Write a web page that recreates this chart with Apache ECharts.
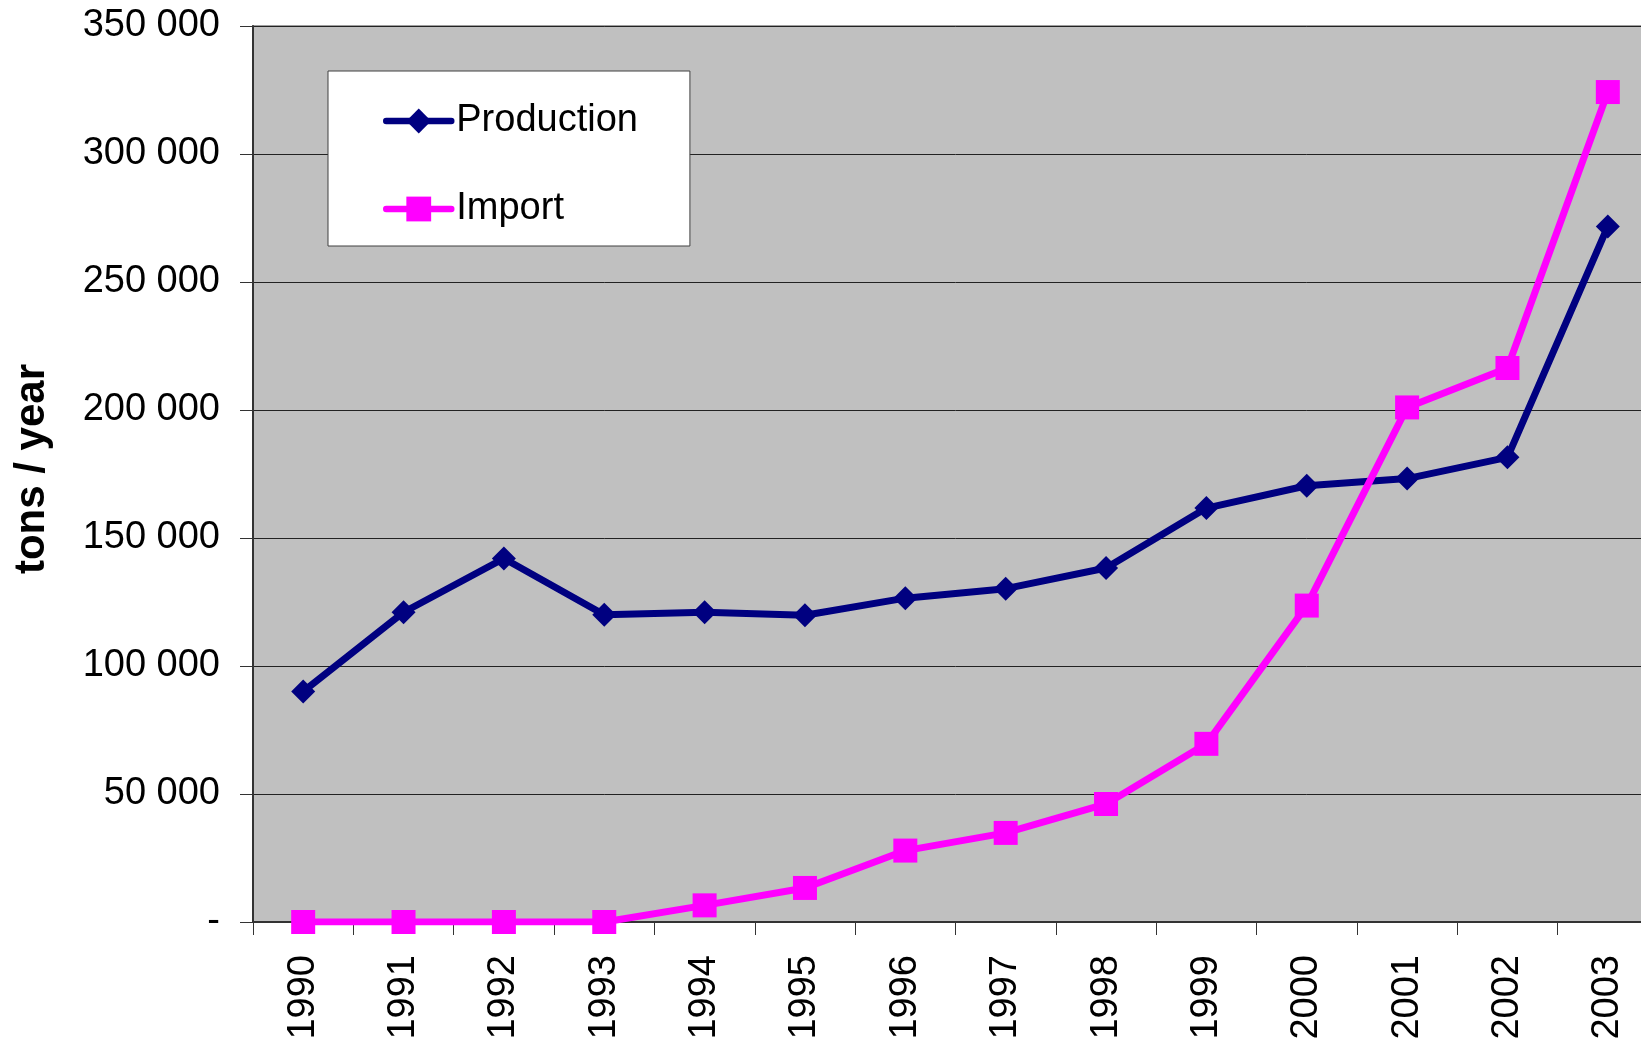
<!DOCTYPE html>
<html>
<head>
<meta charset="utf-8">
<script src="https://cdn.jsdelivr.net/npm/echarts@6/dist/echarts.min.js"></script>
<style>
html,body{margin:0;padding:0;background:#fff;overflow:hidden;width:1641px;height:1043px;}
#chart{width:1658px;height:1043px;}
</style>
</head>
<body>
<div id="chart"></div>
<script>
var years = ['1990','1991','1992','1993','1994','1995','1996','1997','1998','1999','2000','2001','2002','2003'];
var production = [90000, 121000, 142000, 120000, 121000, 119800, 126500, 130200, 138300, 161700, 170400, 173200, 181500, 271700];
var importData = [0, 0, 0, 0, 6500, 13300, 27900, 34800, 46100, 69600, 123600, 201000, 216400, 324200];
var yTickLabels = ['-', '50 000', '100 000', '150 000', '200 000', '250 000', '300 000', '350 000'];
var seriesNames = ['Production', 'Import'];
var yAxisTitle = 'tons / year';

var FONT = 'Liberation Sans';
var chart = echarts.init(document.getElementById('chart'), null, {renderer: 'canvas'});
chart.setOption({
  animation: false,
  backgroundColor: '#ffffff',
  grid: {
    left: 253, top: 26, right: 0, bottom: 121,
    show: true, backgroundColor: '#C0C0C0', borderColor: '#808080', borderWidth: 1.5
  },
  legend: {
    left: 328, top: 71,
    orient: 'vertical',
    backgroundColor: '#ffffff',
    borderColor: '#404040', borderWidth: 1,
    padding: [30, 52, 17, 55],
    itemWidth: 65, itemHeight: 31, itemGap: 48,
    lineStyle: {width: 6.5, cap: 'round'},
    textStyle: {fontFamily: FONT, fontSize: 38, color: '#000', lineHeight: 40},
    data: seriesNames
  },
  xAxis: {
    type: 'category',
    data: years,
    boundaryGap: true,
    axisLine: {lineStyle: {color: '#333', width: 2}},
    axisTick: {show: true, length: 13, lineStyle: {color: '#333', width: 1}},
    axisLabel: {rotate: 90, margin: 33, fontFamily: FONT, fontSize: 38, color: '#000', interval: 0},
    splitLine: {show: false}
  },
  yAxis: {
    type: 'value',
    min: 0, max: 350000, interval: 50000,
    name: yAxisTitle,
    nameLocation: 'middle',
    nameRotate: 90,
    nameGap: 200,
    nameTextStyle: {fontFamily: FONT, fontSize: 42, fontWeight: 'bold', color: '#000', padding: [0, 0, 0, 10]},
    axisLine: {show: true, lineStyle: {color: '#333', width: 2}},
    axisTick: {show: true, length: 13, lineStyle: {color: '#333', width: 1}},
    axisLabel: {
      margin: 33, fontFamily: FONT, fontSize: 38, color: '#000',
      formatter: function (v) { return yTickLabels[Math.round(v / 50000)]; }
    },
    splitLine: {show: true, lineStyle: {color: '#222', width: 1}}
  },
  series: [
    {
      name: seriesNames[0], type: 'line', data: production,
      symbol: 'diamond', symbolSize: 24,
      itemStyle: {color: '#000080'},
      lineStyle: {color: '#000080', width: 7},
      z: 3
    },
    {
      name: seriesNames[1], type: 'line', data: importData,
      symbol: 'rect', symbolSize: 24,
      itemStyle: {color: '#FF00FF'},
      lineStyle: {color: '#FF00FF', width: 7},
      z: 4
    }
  ]
});
</script>
</body>
</html>
